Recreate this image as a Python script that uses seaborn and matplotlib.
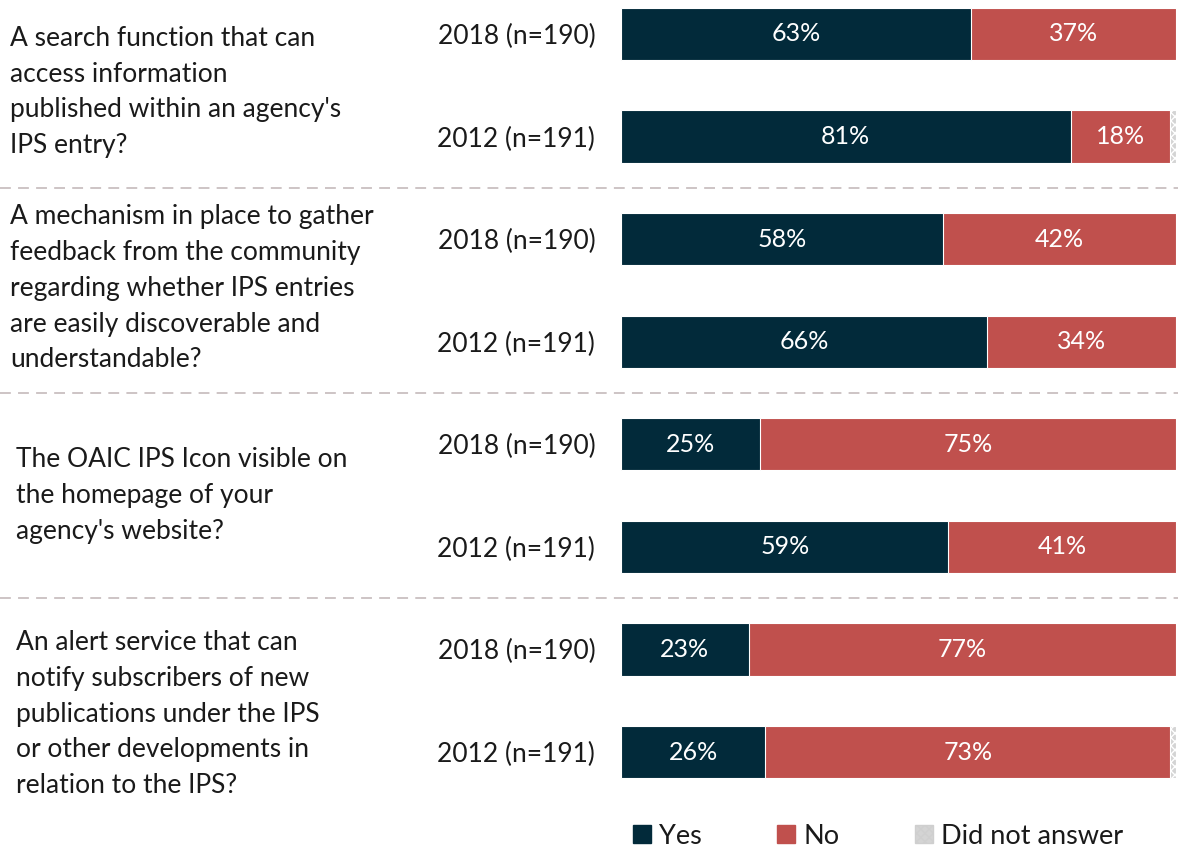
import matplotlib
matplotlib.use("Agg")
import matplotlib.pyplot as plt
import matplotlib.transforms as mtransforms
from matplotlib.lines import Line2D
from matplotlib.patches import Patch
import seaborn as sns
import pandas as pd

sns.set_theme(style="white")
plt.rcParams["font.family"] = ["Lato", "DejaVu Sans"]
plt.rcParams["hatch.color"] = "#f2f2f2"
plt.rcParams["hatch.linewidth"] = 1.0

# ---- data ----
questions = [
    "A search function that can\naccess information\npublished within an agency's\nIPS entry?",
    "A mechanism in place to gather\nfeedback from the community\nregarding whether IPS entries\nare easily discoverable and\nunderstandable?",
    "The OAIC IPS Icon visible on\nthe homepage of your\nagency's website?",
    "An alert service that can\nnotify subscribers of new\npublications under the IPS\nor other developments in\nrelation to the IPS?",
]
row_labels = ["2018 (n=190)", "2012 (n=191)"] * 4
yes = [63, 81, 58, 66, 25, 59, 23, 26]
no = [37, 18, 42, 34, 75, 41, 77, 73]
no_answer = [0, 1, 0, 0, 0, 0, 0, 1]

YES_C = "#022a3a"
NO_C = "#c0504d"
NA_C = "#d4d4d4"
TXT = "#1a1a1a"

row_ids = [f"r{i}" for i in range(len(yes))]
df = pd.DataFrame({
    "row": row_ids,
    "yes": yes,
    "yes_no": [a + b for a, b in zip(yes, no)],
    "total": [a + b + c for a, b, c in zip(yes, no, no_answer)],
})

W, H = 1178, 850
fig = plt.figure(figsize=(W / 100, H / 100), dpi=100)
ax = fig.add_axes([621 / W, 47 / H, 555 / W, 803 / H])

bar_h = 0.51
common = dict(data=df, y="row", orient="h", width=bar_h, ax=ax,
              edgecolor="white", linewidth=0.8, saturation=1)
# cumulative layers: drawn from the full stack down to the first segment
sns.barplot(x="total", color=NA_C, hatch="xxxx", **common)
sns.barplot(x="yes_no", color=NO_C, **common)
sns.barplot(x="yes", color=YES_C, **common)

ax.set_xlim(0, 100)
ax.set_ylim(7.497, -0.331)
ax.set_xlabel("")
ax.set_ylabel("")
ax.set_xticks([])
ax.set_yticks(range(len(row_labels)))
ax.set_yticklabels(row_labels, fontsize=19, color=TXT)
ax.tick_params(axis="y", length=0, pad=18.5)
for s in ax.spines.values():
    s.set_visible(False)

# value labels inside segments
for i, (y_, n_) in enumerate(zip(yes, no)):
    ax.text(y_ / 2, i, f"{y_}%", ha="center", va="center",
            color="white", fontsize=18)
    ax.text(y_ + n_ / 2, i, f"{n_}%", ha="center", va="center",
            color="white", fontsize=18)

# question text blocks (figure x, data y)
blend = mtransforms.blended_transform_factory(fig.transFigure, ax.transData)
q_pos = [(10, 0.565), (10, 2.48), (16, 4.50), (16, 6.63)]
for q, (px, yc) in zip(questions, q_pos):
    ax.text(px / W, yc, q, transform=blend, ha="left", va="center",
            fontsize=19, color=TXT, linespacing=1.54, clip_on=False)

# dashed separators across the whole width
for yv in [1.5, 3.5, 5.5]:
    ln = Line2D([0, 1], [yv, yv], transform=blend, color="#c9bfc0",
                linewidth=1.3, linestyle=(0, (6, 4)), clip_on=False)
    ax.add_line(ln)

handles = [
    Patch(facecolor=YES_C, edgecolor=YES_C, label="Yes"),
    Patch(facecolor=NO_C, edgecolor=NO_C, label="No"),
    Patch(facecolor=NA_C, edgecolor="#cfcfcf", hatch="xxxx", label="Did not answer"),
]
fig.legend(handles=handles, loc="center left",
           bbox_to_anchor=(633 / W, 1 - 836 / H), ncol=3, frameon=False,
           fontsize=19.5, handlelength=0.65, handleheight=0.65,
           handletextpad=0.3, columnspacing=2.8, labelcolor=TXT,
           borderpad=0, borderaxespad=0)

fig.savefig("out.png", dpi=100)
